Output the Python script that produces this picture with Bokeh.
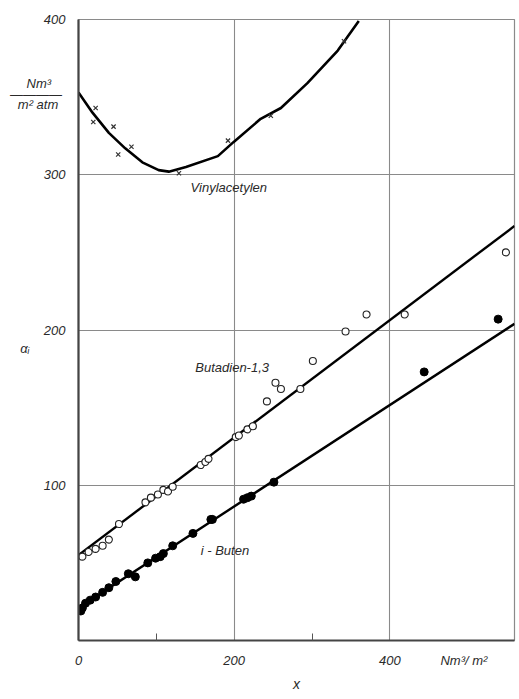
from bokeh.plotting import figure
from bokeh.models import FixedTicker, Label, Range1d
from bokeh.embed import file_html
from bokeh.resources import INLINE

# ---- data ----
vinyl_curve_x = [0, 18, 39, 60, 82, 103, 116, 138, 179, 199, 234, 260, 294, 333, 360]
vinyl_curve_y = [353, 340, 327, 317, 308, 303, 302, 305, 312, 321, 336, 343, 359, 380, 399]
vinyl_pts_x = [22, 19, 45, 68, 51, 129, 192, 247, 341]
vinyl_pts_y = [343, 334, 331, 318, 313, 301, 322, 338, 386]

buta_x = [5, 13, 22, 31, 39, 52, 86, 93, 102, 109, 115, 121, 157, 163, 167,
          202, 206, 217, 224, 242, 253, 260, 285, 301, 343, 370, 419, 549]
buta_y = [54, 57, 59, 61, 65, 75, 89, 92, 94, 97, 96, 99, 113, 115, 117,
          131, 132, 136, 138, 154, 166, 162, 162, 180, 199, 210, 210, 250]
buta_fit_x = [0, 560]
buta_fit_y = [55, 267]

ibut_x = [3, 5, 9, 15, 22, 31, 39, 48, 64, 73, 89, 99, 105, 109, 121,
          147, 170, 172, 212, 217, 222, 251, 444, 539]
ibut_y = [19, 21, 24, 26, 28, 31, 34, 38, 43, 41, 50, 53, 54, 56, 61,
          69, 78, 78, 91, 92, 93, 102, 173, 207]
ibut_fit_x = [0, 560]
ibut_fit_y = [21, 204]

x_ticks = [0, 200, 400]
x_minor = [100, 300]
y_ticks = [100, 200, 300, 400]

NBSP = "\u00a0"
FONT = "Liberation Sans"
INK = "#2a2a2a"

# positions (in axis values) where the unit texts sit beside the axes
x_unit_at = 495
y_unit_num_at, y_unit_bar_at, y_unit_den_at = 359, 352, 345
alpha_at = 188

p = figure(width=518, height=698, output_backend="svg", toolbar_location=None,
           x_range=Range1d(0, 560), y_range=Range1d(0, 400),
           min_border_left=78, min_border_right=4, min_border_top=19,
           min_border_bottom=58)
p.background_fill_color = "white"
p.border_fill_color = "white"
p.outline_line_color = "#8a8a8a"
p.outline_line_width = 1.2

for ax in (p.xaxis, p.yaxis):
    ax.axis_line_color = "#444444"
    ax.axis_line_width = 2.2
    ax.major_tick_line_color = None
    ax.major_label_text_font = FONT
    ax.major_label_text_font_style = "italic"
    ax.major_label_text_font_size = "13px"
    ax.major_label_text_color = INK

p.xaxis.ticker = FixedTicker(ticks=x_ticks + [x_unit_at], minor_ticks=x_minor)
p.xaxis.major_label_overrides = {x_unit_at: "Nm³/ m²"}
p.yaxis.ticker = FixedTicker(
    ticks=y_ticks + [y_unit_num_at, y_unit_bar_at, y_unit_den_at, alpha_at],
    minor_ticks=[])
p.yaxis.major_label_overrides = {
    y_unit_num_at: "Nm³" + NBSP * 4,
    y_unit_bar_at: "————" + NBSP,
    y_unit_den_at: "m² atm" + NBSP * 2,
    alpha_at: "αᵢ" + NBSP * 10,
}
p.xgrid.ticker = FixedTicker(ticks=x_ticks)
p.ygrid.ticker = FixedTicker(ticks=y_ticks)

p.xaxis.minor_tick_in = 7
p.xaxis.minor_tick_out = 0
p.xaxis.minor_tick_line_color = "#555555"
p.yaxis.minor_tick_line_color = None
p.xaxis.major_label_standoff = 6
p.yaxis.major_label_standoff = 7

p.xaxis.axis_label = "x"
p.xaxis.axis_label_text_font = FONT
p.xaxis.axis_label_text_font_style = "italic"
p.xaxis.axis_label_text_font_size = "14px"
p.xaxis.axis_label_text_color = INK
p.xaxis.axis_label_standoff = 5

p.grid.grid_line_color = "#8a8a8a"
p.grid.grid_line_width = 1.1

# curves and fit lines
p.line(vinyl_curve_x, vinyl_curve_y, line_color="black", line_width=2.6)
p.line(buta_fit_x, buta_fit_y, line_color="black", line_width=2.4)
p.line(ibut_fit_x, ibut_fit_y, line_color="black", line_width=2.4)

# markers
p.scatter(vinyl_pts_x, vinyl_pts_y, marker="x", size=6, line_color="#333333", line_width=1.2)
p.scatter(buta_x, buta_y, marker="circle", size=7, fill_color="white",
          line_color="#222222", line_width=1.1)
p.scatter(ibut_x, ibut_y, marker="circle", size=8, fill_color="black",
          line_color="black")


def lab(x, y, t, size="13px"):
    p.add_layout(Label(x=x, y=y, text=t, text_font=FONT, text_font_style="italic",
                       text_font_size=size, text_color=INK, text_align="left",
                       text_baseline="middle"))


lab(144, 292, "Vinylacetylen")
lab(150, 176, "Butadien-1,3")
lab(157, 58, "i - Buten")

open("out.html", "w").write(file_html(p, INLINE))
